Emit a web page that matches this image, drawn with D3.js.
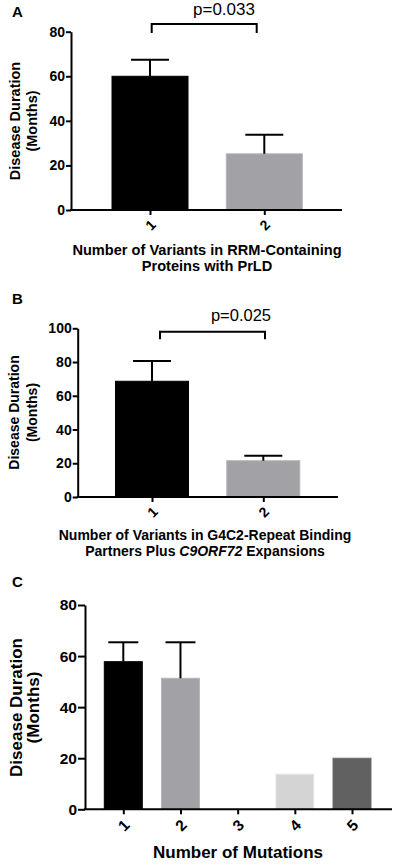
<!DOCTYPE html>
<html>
<head>
<meta charset="utf-8">
<script src="https://d3js.org/d3.v7.min.js"></script>
<style>
  body { margin: 0; background: #fff; }
  text { font-family: "Liberation Sans", Arial, sans-serif; }
</style>
</head>
<body>
<script>
  const w = 397
  const h = 866

  // panel A
  const groupsA = ["1", "2"]
  const meansA = [60, 25.2]
  const semA = [7.4, 8.6]
  const ticksA = [0, 20, 40, 60, 80]
  // panel B
  const groupsB = ["1", "2"]
  const meansB = [68.6, 21.5]
  const semB = [12, 3]
  const ticksB = [0, 20, 40, 60, 80, 100]
  // panel C
  const groupsC = ["1", "2", "3", "4", "5"]
  const meansC = [57.8, 51.3, 0, 13.8, 20]
  const semC = [7.6, 14.1, 0, 0, 0]
  const ticksC = [0, 20, 40, 60, 80]

  const colorsAB = ["#000000", "#a2a2a6"]
  const colorsC = ["#000000", "#a2a2a6", "#ffffff", "#d4d4d4", "#616161"]

  const svg = d3.select("body").append("svg")
    .attr("width", w)
    .attr("height", h)

  function panel(p) {
    const g = svg.append("g")
    const y = d3.scaleLinear().domain([0, d3.max(p.ticks)]).range([p.y0, p.yTop])
    const x = d3.scalePoint().domain(p.groups).range([p.xFirst, p.xLast])

    // panel letter
    g.append("text").attr("x", 12).attr("y", p.letterY)
      .attr("font-size", 15).attr("font-weight", "bold").text(p.letter)

    // bars
    g.selectAll(".bar").data(p.groups).enter().append("rect")
      .attr("x", d => x(d) - p.barW / 2)
      .attr("width", p.barW)
      .attr("y", (d, i) => y(p.means[i]))
      .attr("height", (d, i) => p.y0 - y(p.means[i]))
      .attr("fill", (d, i) => p.colors[i])
      .attr("stroke", (d, i) => i == 0 ? "#000" : d3.color(p.colors[i]).brighter(0.3))
      .attr("stroke-width", 1)

    // error bars (upper only)
    p.groups.forEach((d, i) => {
      if (!p.sem[i]) return
      const top = y(p.means[i] + p.sem[i])
      g.append("line").attr("x1", x(d)).attr("x2", x(d))
        .attr("y1", y(p.means[i])).attr("y2", top)
        .attr("stroke", "#000").attr("stroke-width", 2)
      g.append("line").attr("x1", x(d) - p.capW / 2).attr("x2", x(d) + p.capW / 2)
        .attr("y1", top).attr("y2", top)
        .attr("stroke", "#000").attr("stroke-width", 2)
    })

    // y axis
    const ya = g.append("g").attr("transform", `translate(${p.xAxis},0)`)
      .call(d3.axisLeft(y).tickValues(p.ticks).tickSize(p.tickLen).tickSizeOuter(0).tickPadding(1))
    ya.select(".domain").attr("stroke-width", 2)
    ya.selectAll(".tick line").attr("stroke-width", 2)
    ya.selectAll(".tick text").attr("font-size", p.tickFont).attr("font-weight", "bold")
      .attr("font-family", "Liberation Sans, Arial, sans-serif").attr("fill", "#000")

    // x axis
    g.append("line").attr("x1", p.xAxis - 1).attr("x2", p.xEnd)
      .attr("y1", p.y0).attr("y2", p.y0)
      .attr("stroke", "#000").attr("stroke-width", 2)
    const xa = g.append("g").attr("transform", `translate(0,${p.y0})`)
      .call(d3.axisBottom(x).tickSize(5).tickSizeOuter(0))
    xa.select(".domain").remove()
    xa.selectAll(".tick line").attr("stroke-width", 2)
    xa.selectAll(".tick text")
      .attr("font-size", p.tickFont).attr("font-weight", "bold")
      .attr("font-family", "Liberation Sans, Arial, sans-serif").attr("fill", "#000")
      .attr("text-anchor", "middle").attr("dy", "0.35em")
      .attr("transform", `translate(0,${p.xLabOff}) rotate(-45)`)
      .attr("y", 0)

    // y label
    const yl = g.append("text").attr("font-weight", "bold").attr("font-size", p.labFont)
      .attr("text-anchor", "middle")
      .attr("transform", `translate(0,${p.yLabY}) rotate(-90)`)
    yl.append("tspan").attr("x", 0).attr("y", p.yLabX1).text("Disease Duration")
    yl.append("tspan").attr("x", 0).attr("y", p.yLabX2).text("(Months)")

    // x label
    p.xTitle.forEach((line, i) => {
      const t = g.append("text").attr("x", p.xTitleX).attr("y", p.xTitleY[i])
        .attr("text-anchor", "middle").attr("font-weight", "bold").attr("font-size", p.xTitleFont)
      line.forEach(part => t.append("tspan").attr("font-style", part.it ? "italic" : null).text(part.s))
    })

    // significance bracket
    if (p.bracket) {
      const b = p.bracket
      g.append("path")
        .attr("d", `M${b.x1},${b.bottom}V${b.top}H${b.x2}V${b.bottom}`)
        .attr("fill", "none").attr("stroke", "#000").attr("stroke-width", 2)
      g.append("text").attr("x", b.tx).attr("y", b.ty)
        .attr("text-anchor", "middle").attr("font-size", b.font).text(b.label)
    }
  }

  panel({
    letter: "A", letterY: 17,
    groups: groupsA, means: meansA, sem: semA, ticks: ticksA, colors: colorsAB,
    y0: 210, yTop: 31.7, xAxis: 71, xEnd: 342, xFirst: 150, xLast: 264.3,
    barW: 76, capW: 38, tickLen: 5, tickFont: 14, xLabOff: 15,
    labFont: 14.5, yLabY: 121, yLabX1: 19.5, yLabX2: 37,
    xTitle: [[{ s: "Number of Variants in RRM-Containing" }], [{ s: "Proteins with PrLD" }]],
    xTitleX: 207, xTitleY: [255, 271], xTitleFont: 14.6,
    bracket: { x1: 151.7, x2: 256.7, top: 24, bottom: 33, tx: 224, ty: 15, font: 17, label: "p=0.033" }
  })

  panel({
    letter: "B", letterY: 304,
    groups: groupsB, means: meansB, sem: semB, ticks: ticksB, colors: colorsAB,
    y0: 497, yTop: 328.3, xAxis: 77.7, xEnd: 338, xFirst: 152, xLast: 263.3,
    barW: 73, capW: 38, tickLen: 5, tickFont: 14, xLabOff: 15,
    labFont: 14, yLabY: 412.5, yLabX1: 19, yLabX2: 37,
    xTitle: [[{ s: "Number of Variants in G4C2-Repeat Binding" }],
             [{ s: "Partners Plus " }, { s: "C9ORF72", it: true }, { s: " Expansions" }]],
    xTitleX: 205, xTitleY: [540, 556], xTitleFont: 14,
    bracket: { x1: 160, x2: 265, top: 331.7, bottom: 339.3, tx: 241, ty: 321, font: 16.5, label: "p=0.025" }
  })

  panel({
    letter: "C", letterY: 587,
    groups: groupsC, means: meansC, sem: semC, ticks: ticksC, colors: colorsC,
    y0: 809.3, yTop: 605, xAxis: 85, xEnd: 392, xFirst: 123.3, xLast: 352,
    barW: 38, capW: 30, tickLen: 7, tickFont: 15.5, xLabOff: 16,
    labFont: 17, yLabY: 707.5, yLabX1: 21.5, yLabX2: 39,
    xTitle: [[{ s: "Number of Mutations" }]],
    xTitleX: 238, xTitleY: [858], xTitleFont: 17,
    bracket: null
  })
</script>
</body>
</html>
